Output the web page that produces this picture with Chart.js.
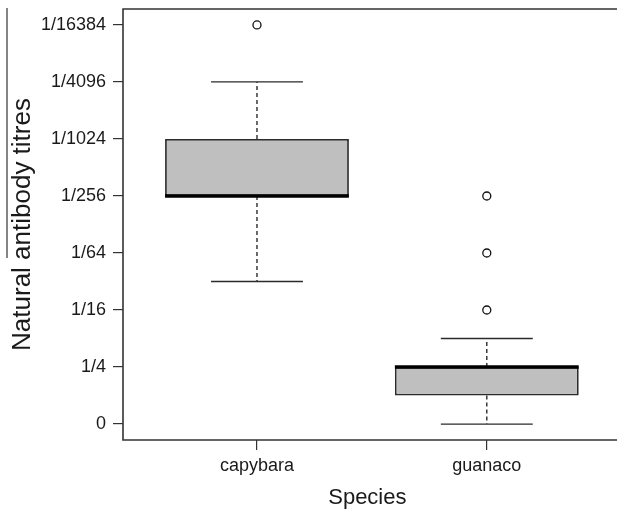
<!DOCTYPE html>
<html>
<head>
<meta charset="utf-8">
<script src="https://cdn.jsdelivr.net/npm/chart.js@4.4.1/dist/chart.umd.min.js"></script>
<style>
  body { margin: 0; background: #fff; }
  #boxChart { display: block; }
</style>
</head>
<body>
<canvas id="boxChart" width="617" height="509"></canvas>
<script>
// DATA
// titre levels: step k on the axis means 1/4^k, step 0 means no titre
const species = ['capybara', 'guanaco'];
const tickLabels = ['0', '1/4', '1/16', '1/64', '1/256', '1/1024', '1/4096', '1/16384'];
const lowerWhisker = [2.5, 0];
const lowerQuartile = [4, 0.5];
const medians = [4, 1];
const upperQuartile = [5, 1];
const upperWhisker = [6, 1.5];
const outliers = [[7], [2, 3, 4]];

Chart.defaults.font.family = '"Liberation Sans", Arial, sans-serif';
Chart.defaults.color = '#1a1a1a';

// box dataset (floating bars q1..q3)
const boxData = species.map((s, i) => ({ x: i + 1, y: [lowerQuartile[i], upperQuartile[i]] }));

// outlier points
const outlierData = [];
outliers.forEach((list, i) => {
    list.forEach(v => outlierData.push({ x: i + 1, y: v }));
});

// whiskers, caps and medians drawn from the scales
const boxLines = {
    id: 'boxLines',
    beforeDatasetsDraw(chart) {
        const { ctx, scales: { x, y } } = chart;
        ctx.save();
        ctx.strokeStyle = '#2b2b2b';
        species.forEach((s, i) => {
            const cx = x.getPixelForValue(i + 1);
            const capL = x.getPixelForValue(i + 1 - 0.2);
            const capR = x.getPixelForValue(i + 1 + 0.2);
            // dashed whiskers
            ctx.lineWidth = 1.4;
            ctx.setLineDash([4, 3]);
            ctx.beginPath();
            ctx.moveTo(cx, y.getPixelForValue(upperQuartile[i]));
            ctx.lineTo(cx, y.getPixelForValue(upperWhisker[i]));
            ctx.moveTo(cx, y.getPixelForValue(lowerQuartile[i]));
            ctx.lineTo(cx, y.getPixelForValue(lowerWhisker[i]));
            ctx.stroke();
            // caps
            ctx.setLineDash([]);
            ctx.lineWidth = 1.3;
            ctx.beginPath();
            ctx.moveTo(capL, y.getPixelForValue(upperWhisker[i]));
            ctx.lineTo(capR, y.getPixelForValue(upperWhisker[i]));
            ctx.moveTo(capL, y.getPixelForValue(lowerWhisker[i]));
            ctx.lineTo(capR, y.getPixelForValue(lowerWhisker[i]));
            ctx.stroke();
        });
        ctx.restore();
    },
    afterDatasetsDraw(chart) {
        const { ctx, chartArea, scales: { y } } = chart;
        const bars = chart.getDatasetMeta(0).data;
        ctx.save();
        // medians
        ctx.strokeStyle = '#000';
        ctx.lineWidth = 3.5;
        species.forEach((s, i) => {
            const half = bars[i].width / 2;
            const my = y.getPixelForValue(medians[i]);
            ctx.beginPath();
            ctx.moveTo(bars[i].x - half, my);
            ctx.lineTo(bars[i].x + half, my);
            ctx.stroke();
        });
        // plot frame (right side is cut off in the source figure)
        ctx.strokeStyle = '#333';
        ctx.lineWidth = 1.6;
        ctx.beginPath();
        ctx.moveTo(chart.width, chartArea.top);
        ctx.lineTo(chartArea.left, chartArea.top);
        ctx.lineTo(chartArea.left, chartArea.bottom);
        ctx.lineTo(chart.width, chartArea.bottom);
        ctx.stroke();
        // stray rule at the far left of the source figure
        ctx.lineWidth = 1.2;
        ctx.beginPath();
        ctx.moveTo(7, 8);
        ctx.lineTo(7, 258);
        ctx.stroke();
        ctx.restore();
    }
};

const boxC = document.getElementById('boxChart');

new Chart(boxC, {
    type: 'bar',
    data: {
        datasets: [
            {
                type: 'bar',
                data: boxData,
                backgroundColor: '#bfbfbf',
                borderColor: '#2b2b2b',
                borderWidth: 1.8,
                borderSkipped: false,
                barPercentage: 0.8,
                categoryPercentage: 1
            },
            {
                type: 'scatter',
                data: outlierData,
                pointStyle: 'circle',
                pointRadius: 4,
                pointBackgroundColor: '#fff',
                pointBorderColor: '#111',
                pointBorderWidth: 1.3
            }
        ]
    },
    options: {
        responsive: false,
        animation: false,
        layout: { padding: { top: 9, right: 0, left: 0, bottom: 0 } },
        plugins: {
            legend: { display: false },
            tooltip: { enabled: false }
        },
        scales: {
            x: {
                type: 'linear',
                min: 0.417,
                max: 2.5435,
                offset: false,
                afterBuildTicks: scale => { scale.ticks = species.map((s, i) => ({ value: i + 1 })); },
                afterFit: scale => {
                    scale.height = 69;
                    scale.paddingLeft = 0;
                    scale.paddingRight = 0;
                },
                ticks: {
                    callback: v => species[v - 1],
                    font: { size: 18 },
                    color: '#1a1a1a',
                    padding: 5,
                    maxRotation: 0
                },
                grid: {
                    offset: false,
                    drawOnChartArea: false,
                    drawTicks: true,
                    tickLength: 10,
                    tickColor: '#333',
                    lineWidth: 1.2
                },
                border: { display: false },
                title: {
                    display: true,
                    text: 'Species',
                    font: { size: 22 },
                    color: '#1a1a1a',
                    padding: { top: 0, bottom: -2 }
                }
            },
            y: {
                type: 'linear',
                min: -0.28,
                max: 7.28,
                afterBuildTicks: scale => { scale.ticks = tickLabels.map((t, i) => ({ value: i })); },
                afterFit: scale => {
                    scale.width = 123;
                    scale.paddingTop = 0;
                    scale.paddingBottom = 0;
                },
                ticks: {
                    callback: v => tickLabels[v],
                    font: { size: 18 },
                    color: '#1a1a1a',
                    padding: 7
                },
                grid: {
                    drawOnChartArea: false,
                    drawTicks: true,
                    tickLength: 10,
                    tickColor: '#333',
                    lineWidth: 1.2
                },
                border: { display: false },
                title: {
                    display: true,
                    text: 'Natural antibody titres',
                    font: { size: 26 },
                    color: '#1a1a1a',
                    padding: { top: 7, bottom: 0 }
                }
            }
        }
    },
    plugins: [boxLines]
});
</script>
</body>
</html>
